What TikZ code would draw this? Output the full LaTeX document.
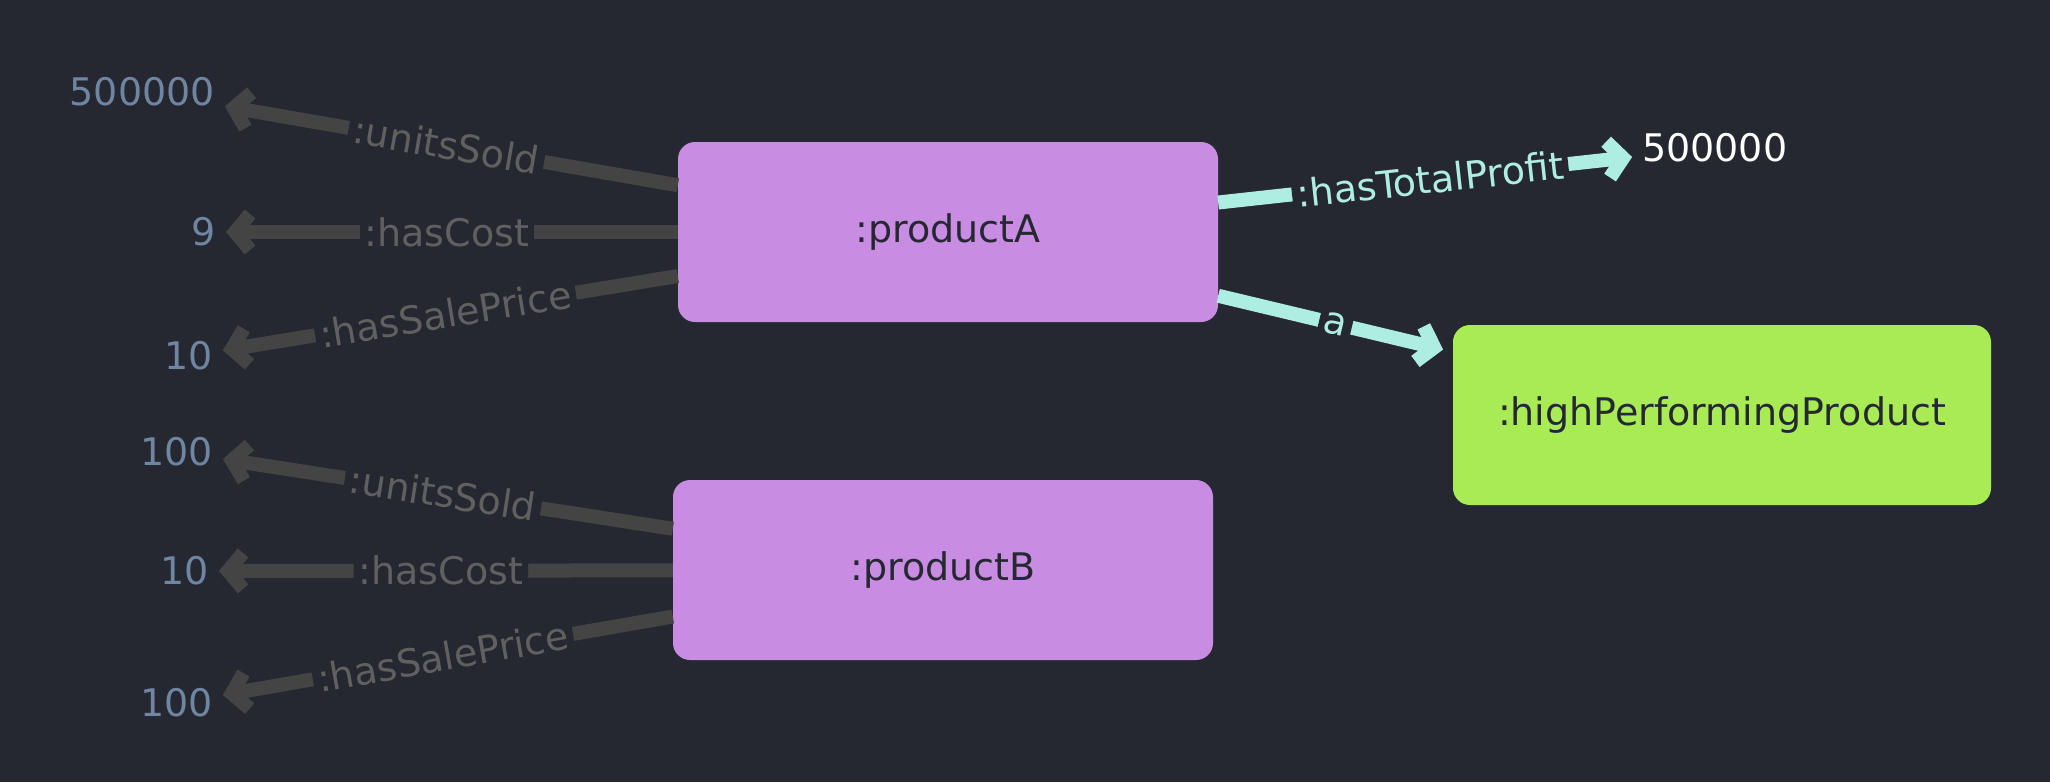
\documentclass[tikz,border=0pt]{standalone}
\usepackage{fontspec}
\setmainfont{DejaVu Sans}
\usetikzlibrary{arrows.meta, positioning}
\usepackage{xcolor}

\definecolor{bgdark}{RGB}{38,40,49}
\definecolor{subjfill}{RGB}{200,141,226}
\definecolor{classfill}{RGB}{168,235,85}
\definecolor{edgegray}{RGB}{68,68,68}
\definecolor{labelgray}{RGB}{96,96,96}
\definecolor{litblue}{RGB}{111,134,163}
\definecolor{inferred}{RGB}{174,238,226}

\tikzset{
  bigfont/.style={font=\fontsize{38}{44}\selectfont},
  resource/.style={rounded corners=17pt, minimum width=540pt, minimum height=180pt, text=bgdark, bigfont},
  literal/.style={inner sep=0pt, text=litblue, bigfont},
  asserted/.style={draw=edgegray, line width=14pt, -{Straight Barb[length=15pt,width=36pt]}, shorten >=10pt},
  derived/.style={draw=inferred, line width=14pt, -{Straight Barb[length=15pt,width=36pt]}, shorten >=10pt},
  plabel/.style={sloped, fill=bgdark, inner xsep=5pt, inner ysep=1pt, bigfont}
}

\begin{document}
\begin{tikzpicture}[x=1pt, y=-1pt]
\fill[bgdark] (0,0) rectangle (2050,782);
\useasboundingbox (0,0) rectangle (2050,782);

% subjects and class
\node[resource, fill=subjfill] (prodA) at (948,232) {:productA};
\node[resource, fill=subjfill] (prodB) at (943,570) {:productB};
\node[resource, fill=classfill, minimum width=538pt] (highPerf) at (1722,415) {:highPerformingProduct};

% literal values
\node[literal, anchor=east] (unitsA) at (215,92) {500000};
\node[literal, anchor=east] (costA) at (216,232) {9};
\node[literal, anchor=east] (priceA) at (213,356) {10};
\node[literal, anchor=east] (unitsB) at (213,452) {100};
\node[literal, anchor=east] (costB) at (209,571) {10};
\node[literal, anchor=east] (priceB) at (213,703) {100};
\node[literal, anchor=west, text=white] (profitA) at (1642,148) {500000};

% asserted triples
\draw[asserted] (prodA) -- node[plabel, text=labelgray] {:unitsSold} (unitsA);
\draw[asserted] (prodA) -- node[plabel, text=labelgray] {:hasCost} (costA);
\draw[asserted] (prodA) -- node[plabel, text=labelgray] {:hasSalePrice} (priceA);
\draw[asserted] (prodB) -- node[plabel, text=labelgray] {:unitsSold} (unitsB);
\draw[asserted] (prodB) -- node[plabel, text=labelgray] {:hasCost} (costB);
\draw[asserted] (prodB) -- node[plabel, text=labelgray] {:hasSalePrice} (priceB);

% inferred triples
\draw[derived] (prodA) -- node[plabel, text=inferred] {:hasTotalProfit} (profitA);
\draw[derived] (prodA) -- node[plabel, text=inferred] {a} (highPerf);
\end{tikzpicture}
\end{document}
